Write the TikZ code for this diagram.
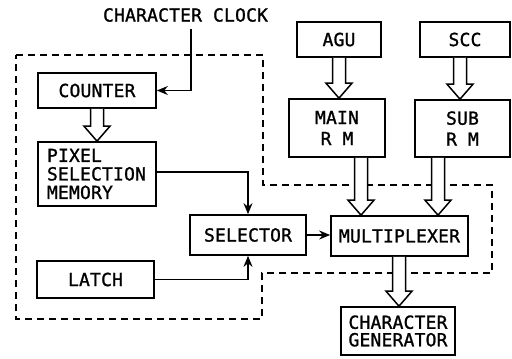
\documentclass[tikz,border=0pt]{standalone}
\usepackage{fontspec}
\newfontfamily\diafont[LetterSpace=1,FakeBold=1.2]{DejaVu Sans Mono}
\usetikzlibrary{arrows.meta,calc}
\newcommand\fs{6.5pt}
\newcommand\fh{13pt}
\newcommand\fl{15pt}
\newcommand\fatarr[3]{%
  \draw[fatarrow] ([xshift=-\fs]#1 |- #2.south) -- ([xshift=-\fs,yshift=\fl]#1 |- #3.north)
    -- ([xshift=-\fh,yshift=\fl]#1 |- #3.north) -- (#1 |- #3.north)
    -- ([xshift=\fh,yshift=\fl]#1 |- #3.north) -- ([xshift=\fs,yshift=\fl]#1 |- #3.north)
    -- ([xshift=\fs]#1 |- #2.south);}
\begin{document}
\begin{tikzpicture}[x=1pt,y=-1pt,
  font=\diafont\fontsize{18}{19}\selectfont,
  box/.style={draw,line width=1.7pt,inner sep=0pt,align=center},
  arr/.style={line width=1.5pt,-{Stealth[length=11pt,width=9pt]}},
  fatarrow/.style={line width=1.5pt,fill=white,line join=miter},
  dashline/.style={line width=1.6pt,dash pattern=on 7pt off 5pt}]
\useasboundingbox (0,0) rectangle (512,359);
% dashed boundary
\draw[dashline] (16,55) -- (263,55) -- (263,185) -- (492,185) -- (492,273)
  -- (262,273) -- (262,319) -- (16,319) -- cycle;
% boxes
\node[box,minimum width=118,minimum height=35] (counter) at (97,90.5) {COUNTER};
\node[box,minimum width=118,minimum height=64,text width=100,inner xsep=9,align=left,
  font=\diafont\fontsize{18}{18.5}\selectfont] (pix) at (97,174) {PIXEL\\SELECTION\\MEMORY};
\node[box,minimum width=117,minimum height=37] (latch) at (95.5,279.5) {LATCH};
\node[box,minimum width=116,minimum height=40] (sel) at (248,235) {SELECTOR};
\node[box,minimum width=137,minimum height=40] (mux) at (399.5,236) {MULTIPLEXER};
\node[box,minimum width=114,minimum height=48,
  font=\diafont\fontsize{18}{17.5}\selectfont] (cg) at (398,331) {CHARACTER\\GENERATOR};
\node[box,minimum width=84,minimum height=35] (agu) at (339,39.5) {AGU};
\node[box,minimum width=90,minimum height=35] (scc) at (465,39.5) {SCC};
\node[box,minimum width=96,minimum height=58,
  font=\diafont\fontsize{18}{21}\selectfont] (main) at (337,128) {MAIN\\R M};
\node[box,minimum width=95,minimum height=57,
  font=\diafont\fontsize{18}{21}\selectfont] (sub) at (462.5,128.5) {SUB\\R M};
\node (clktxt) at (185.5,15) {CHARACTER CLOCK};
% thin arrows
\coordinate (clk) at (191,29);
\draw[arr] (clk) |- (counter.east);
\draw[arr] ([yshift=2pt]pix.east) -| (sel.north);
\draw[arr] (latch.east) -| (sel.south);
\draw[arr] (sel.east) -- (sel.east -| mux.west);
% fat arrows
\coordinate (x1) at (97,0);
\coordinate (x2) at (339,0);
\coordinate (x3) at (460,0);
\coordinate (x4) at (361,0);
\coordinate (x5) at (438,0);
\coordinate (x6) at (399,0);
\fatarr{x1}{counter}{pix}
\fatarr{x2}{agu}{main}
\fatarr{x3}{scc}{sub}
\fatarr{x4}{main}{mux}
\fatarr{x5}{sub}{mux}
\fatarr{x6}{mux}{cg}
\end{tikzpicture}
\end{document}
